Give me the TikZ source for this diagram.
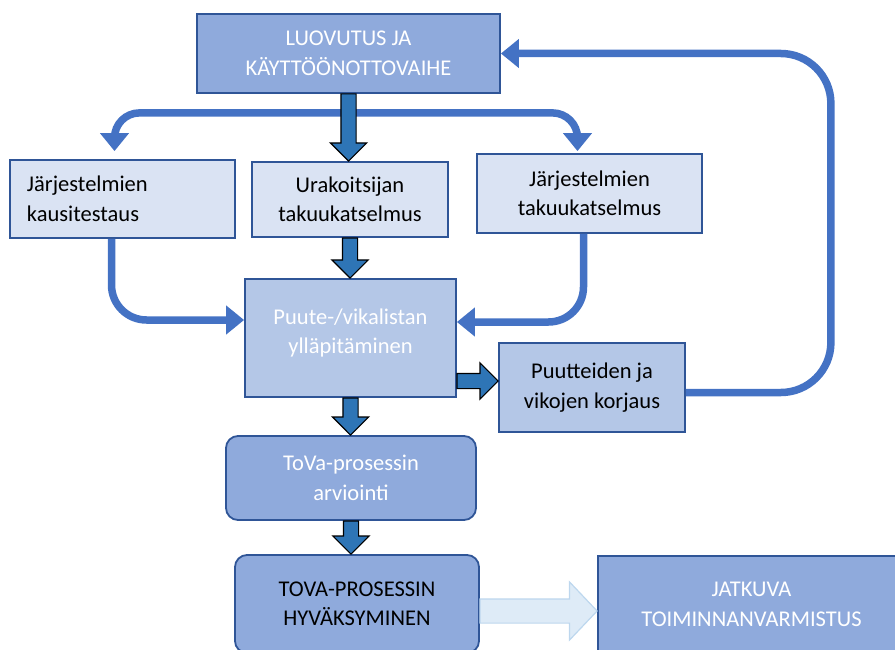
\documentclass[tikz,border=0pt]{standalone}
\usepackage{fontspec}
\setmainfont{Carlito}
\usetikzlibrary{shapes.arrows,arrows.meta,positioning,calc}
\definecolor{PhaseFill}{HTML}{8FAADC}
\definecolor{TaskFill}{HTML}{DAE3F3}
\definecolor{ListFill}{HTML}{B4C7E7}
\definecolor{EdgeBlue}{HTML}{2F5597}
\definecolor{FlowBlue}{HTML}{4472C4}
\definecolor{BlockBlue}{HTML}{2E75B6}
\definecolor{LightFill}{HTML}{DEEBF7}
\definecolor{LightEdge}{HTML}{BDD7EE}
\newcommand{\boxfont}{\fontsize{22.5pt}{29.5pt}\selectfont}
% block arrow between two points
\newcommand{\blockarrow}[3][]{%
  \path let \p1=(#2), \p2=(#3),
    \n1={veclen(\x2-\x1,\y2-\y1)}, \n2={atan2(\y2-\y1,\x2-\x1)} in
    node[bigarrow,#1,minimum height=\n1,rotate=\n2,anchor=tail] at (\p1) {};}

\begin{document}
\begin{tikzpicture}[x=1pt,y=-1pt,
    phase/.style={draw=EdgeBlue,fill=PhaseFill,line width=1.8pt,text=white,
                  font=\boxfont,align=center,inner sep=0pt},
    task/.style={phase,fill=TaskFill,text=black},
    list/.style={phase,fill=ListFill},
    flow/.style={draw=FlowBlue,line width=7.5pt,-{Triangle[length=18pt,width=28pt]}},
    bigarrow/.style={single arrow,draw=black,fill=BlockBlue,line width=1.2pt,
                     inner xsep=0pt,inner ysep=7pt,single arrow head extend=10.5pt,
                     single arrow tip angle=90,outer sep=0pt},
    softarrow/.style={draw=LightEdge,fill=LightFill,inner ysep=11.5pt,
                      single arrow head extend=17pt,single arrow tip angle=93}]
  \useasboundingbox (0,0) rectangle (895,650);
  \clip (0,0) rectangle (895,650);

  \node[phase,minimum width=303,minimum height=79] (luovutus) at (348.5,53.5) {LUOVUTUS JA\\KÄYTTÖÖNOTTOVAIHE};
  \node[task,text width=191pt,inner xsep=17pt,align=left,minimum height=78] (kausi) at (122.5,199) {Järjestelmien\\kausitestaus};
  \node[task,minimum width=196,minimum height=75] (ura) at (350,199.5) {Urakoitsijan\\takuukatselmus};
  \node[task,minimum width=225,minimum height=79] (jarj) at (589.5,193.5) {Järjestelmien\\takuukatselmus};
  \node[list,minimum width=211,minimum height=118] (puute) at (350.5,338) {Puute-/vikalistan\\ylläpitäminen\\[-16pt]\mbox{}};
  \node[list,text=black,minimum width=186,minimum height=89] (korjaus) at (592,387.5) {Puutteiden ja\\vikojen korjaus};
  \node[phase,rounded corners=12pt,minimum width=250,minimum height=84] (tova) at (351,478) {ToVa-prosessin\\arviointi};
  \node[phase,rounded corners=12pt,text=black,minimum width=244,minimum height=98] (hyv) at (357,604) {TOVA-PROSESSIN\\HYVÄKSYMINEN};
  \node[phase,minimum width=307,minimum height=97] (jatkuva) at (751.5,604.5) {JATKUVA\\TOIMINNANVARMISTUS};

  % thin connectors
  \coordinate (split) at ($(luovutus.south)+(0,19)$);
  \draw[flow,rounded corners=25pt] (split) -| ($(kausi.north)+(-8,-8)$);
  \draw[flow,rounded corners=25pt] (split) -| ($(jarj.north)+(-12,-2)$);
  \draw[flow,rounded corners=35pt] ($(kausi.south)+(-11,0)$) |- ($(puute.west)+(0,-18)$);
  \draw[flow,rounded corners=35pt] ($(jarj.south)+(-6,0)$) |- ($(puute.east)+(0,-16)$);
  \coordinate (loop) at ($(luovutus.east)+(330,0)$);
  \draw[flow,rounded corners=50pt] ($(korjaus.east)+(0,5)$) -| (loop) -- (luovutus.east);

  % block arrows
  \coordinate (fixstart) at ($(puute.east)+(0,43)$);
  \coordinate (handover) at ($(hyv.east)+(0,7)$);
  \blockarrow{luovutus.south}{luovutus.south |- ura.north}
  \blockarrow{ura.south}{ura.south |- puute.north}
  \blockarrow{puute.south}{puute.south |- tova.north}
  \blockarrow{tova.south}{tova.south |- hyv.north}
  \blockarrow{fixstart}{korjaus.west |- fixstart}
  \blockarrow[softarrow]{handover}{jatkuva.west |- handover}
\end{tikzpicture}
\end{document}
